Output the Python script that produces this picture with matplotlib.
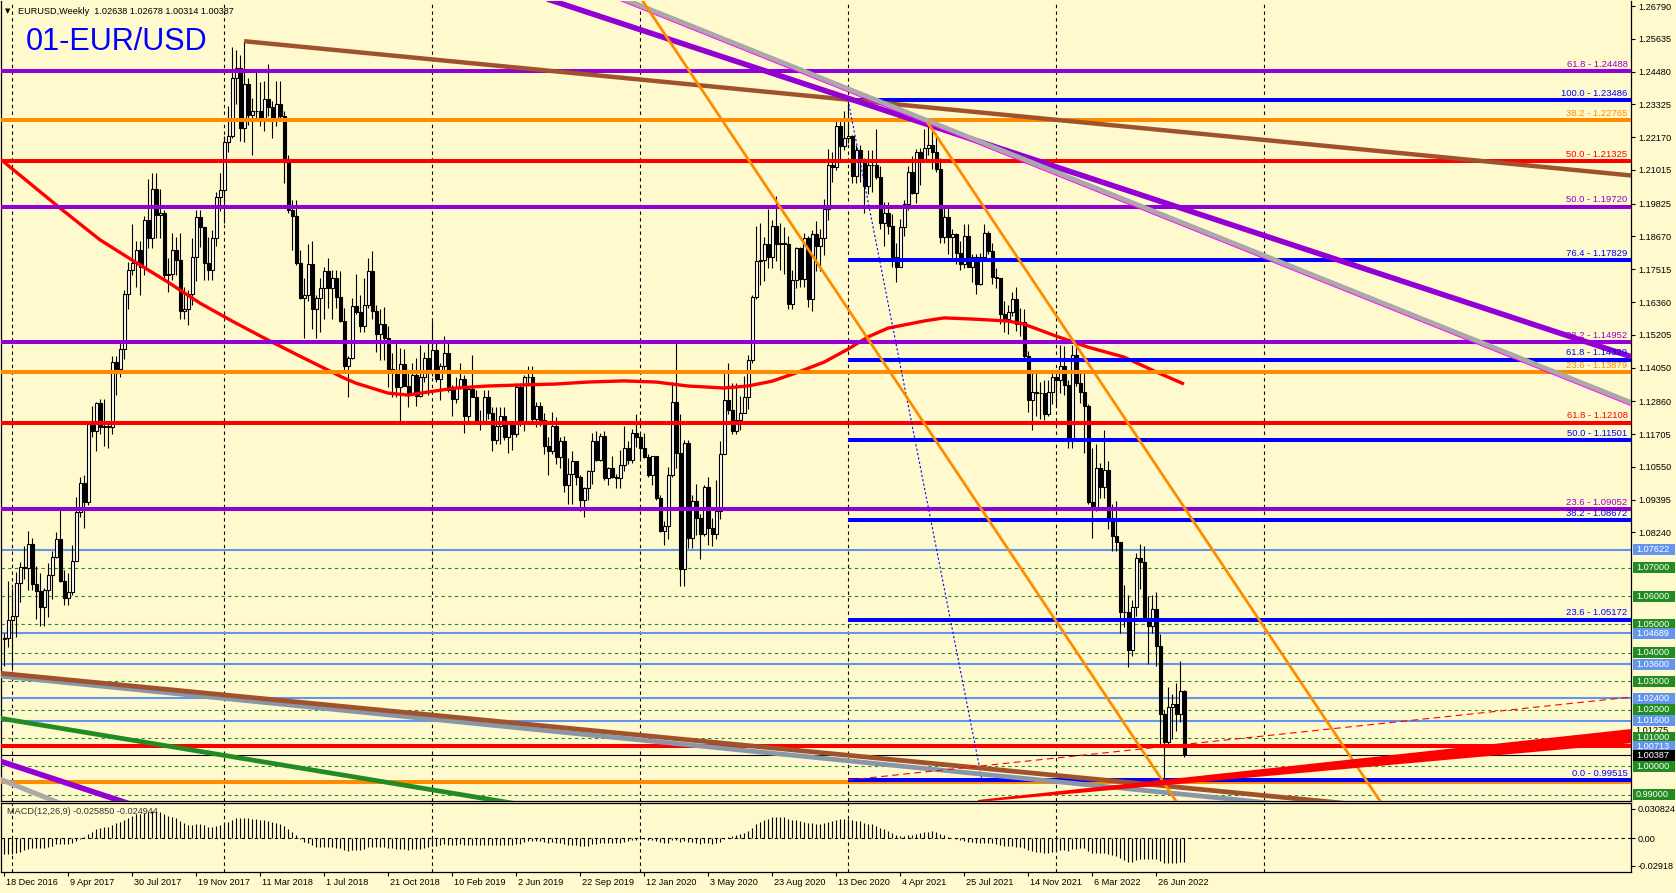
import numpy as np
import pandas as pd
import matplotlib
matplotlib.use("Agg")
import matplotlib.pyplot as plt
from matplotlib.patches import Rectangle
from matplotlib.transforms import blended_transform_factory as blend

plt.rcParams['font.family'] = ['Liberation Sans', 'DejaVu Sans']

# ---------------- weekly candles (weeks starting Sunday) ----------------
first_week = "2016-12-18"
first_open = 1.0450

high_2016 = [1.0470, 1.0653]
low_2016 = [1.0352, 1.0420]
close_2016 = [1.0453, 1.0517]

high_2017 = [1.0630, 1.0685, 1.0720, 1.0775, 1.0830, 1.0805, 1.0705, 1.0680, 1.0630,
             1.0715, 1.0760, 1.0825, 1.0905, 1.0690, 1.0680, 1.0780, 1.0950, 1.1020,
             1.1025, 1.1210, 1.1268, 1.1285, 1.1295, 1.1295, 1.1215, 1.1445,
             1.1445, 1.1490, 1.1680, 1.1777, 1.1910, 1.1850, 1.1850, 1.1940, 1.2070,
             1.2090, 1.2090, 1.2035, 1.1960, 1.1790, 1.1880, 1.1865, 1.1880, 1.1690,
             1.1680, 1.1860, 1.1960, 1.1960, 1.1890, 1.1865, 1.1890, 1.2025, 1.2090]
low_2017 = [1.0340, 1.0455, 1.0580, 1.0660, 1.0620, 1.0620, 1.0520, 1.0495, 1.0495,
            1.0525, 1.0590, 1.0735, 1.0650, 1.0570, 1.0570, 1.0605, 1.0820, 1.0880,
            1.0840, 1.0920, 1.1160, 1.1110, 1.1170, 1.1130, 1.1120, 1.1170,
            1.1310, 1.1370, 1.1435, 1.1610, 1.1730, 1.1690, 1.1660, 1.1730, 1.1825,
            1.1825, 1.1860, 1.1860, 1.1717, 1.1670, 1.1715, 1.1730, 1.1575, 1.1575,
            1.1555, 1.1625, 1.1710, 1.1830, 1.1715, 1.1715, 1.1715, 1.1835, 1.1955]
close_2017 = [1.0530, 1.0645, 1.0703, 1.0698, 1.0784, 1.0643, 1.0616, 1.0561, 1.0620,
              1.0673, 1.0736, 1.0800, 1.0652, 1.0594, 1.0614, 1.0725, 1.0895, 1.0998,
              1.0933, 1.1206, 1.1183, 1.1280, 1.1196, 1.1198, 1.1196, 1.1426,
              1.1400, 1.1470, 1.1665, 1.1750, 1.1773, 1.1818, 1.1760, 1.1925, 1.1860,
              1.2035, 1.1942, 1.1950, 1.1732, 1.1735, 1.1821, 1.1785, 1.1605, 1.1610,
              1.1665, 1.1794, 1.1935, 1.1900, 1.1775, 1.1750, 1.1860, 1.2005, 1.2030]

high_2018 = [1.2220, 1.2325, 1.2535, 1.2525, 1.2505, 1.2555, 1.2425, 1.2355,
             1.2445, 1.2410, 1.2415, 1.2475, 1.2345, 1.2415, 1.2415, 1.2310, 1.2155,
             1.1995, 1.1995, 1.1820, 1.1720, 1.1840, 1.1850, 1.1660, 1.1720,
             1.1760, 1.1790, 1.1750, 1.1750, 1.1745, 1.1615, 1.1445, 1.1650, 1.1735,
             1.1660, 1.1720, 1.1790, 1.1815, 1.1625, 1.1610, 1.1620, 1.1550, 1.1455,
             1.1500, 1.1475, 1.1470, 1.1385, 1.1420, 1.1440, 1.1485, 1.1460, 1.1500]
low_2018 = [1.1915, 1.2165, 1.2215, 1.2335, 1.2205, 1.2200, 1.2260, 1.2155,
            1.2275, 1.2255, 1.2240, 1.2290, 1.2215, 1.2255, 1.2280, 1.2055, 1.1950,
            1.1820, 1.1765, 1.1645, 1.1510, 1.1640, 1.1540, 1.1510, 1.1530,
            1.1575, 1.1615, 1.1575, 1.1615, 1.1565, 1.1390, 1.1300, 1.1435, 1.1595,
            1.1530, 1.1530, 1.1615, 1.1575, 1.1460, 1.1430, 1.1430, 1.1335, 1.1300,
            1.1300, 1.1215, 1.1345, 1.1265, 1.1310, 1.1270, 1.1300, 1.1355, 1.1310]
close_2018 = [1.2200, 1.2220, 1.2427, 1.2460, 1.2250, 1.2405, 1.2295, 1.2310,
              1.2310, 1.2285, 1.2350, 1.2323, 1.2280, 1.2332, 1.2290, 1.2130, 1.1960,
              1.1940, 1.1775, 1.1650, 1.1660, 1.1770, 1.1610, 1.1650, 1.1684,
              1.1745, 1.1685, 1.1720, 1.1655, 1.1568, 1.1410, 1.1440, 1.1622, 1.1600,
              1.1550, 1.1625, 1.1747, 1.1605, 1.1525, 1.1560, 1.1510, 1.1400, 1.1385,
              1.1335, 1.1418, 1.1340, 1.1315, 1.1380, 1.1305, 1.1370, 1.1440, 1.1395]

high_2019 = [1.1570, 1.1500, 1.1420, 1.1515, 1.1490, 1.1345, 1.1370, 1.1420,
             1.1380, 1.1340, 1.1450, 1.1325, 1.1255, 1.1325, 1.1325, 1.1265, 1.1265,
             1.1265, 1.1265, 1.1215, 1.1215, 1.1350, 1.1350, 1.1380, 1.1410, 1.1410,
             1.1285, 1.1285, 1.1245, 1.1160, 1.1250, 1.1230, 1.1160, 1.1165,
             1.1085, 1.1110, 1.1075, 1.1025, 1.0985, 1.1045, 1.1175, 1.1180, 1.1175,
             1.1180, 1.1055, 1.1095, 1.1030, 1.1115, 1.1200, 1.1145, 1.1190, 1.1240]
low_2019 = [1.1375, 1.1355, 1.1290, 1.1390, 1.1320, 1.1235, 1.1280, 1.1330,
            1.1175, 1.1210, 1.1300, 1.1215, 1.1185, 1.1205, 1.1225, 1.1110, 1.1135,
            1.1135, 1.1150, 1.1105, 1.1115, 1.1160, 1.1200, 1.1180, 1.1350, 1.1210,
            1.1195, 1.1200, 1.1100, 1.1025, 1.1100, 1.1065, 1.1050, 1.0965,
            1.0925, 1.0925, 1.0990, 1.0900, 1.0880, 1.0940, 1.0995, 1.1075, 1.1075,
            1.1010, 1.0990, 1.1015, 1.0980, 1.0980, 1.1040, 1.1065, 1.1070, 1.1125]
close_2019 = [1.1468, 1.1365, 1.1410, 1.1455, 1.1325, 1.1295, 1.1335, 1.1365,
              1.1235, 1.1330, 1.1300, 1.1218, 1.1218, 1.1300, 1.1245, 1.1150, 1.1200,
              1.1235, 1.1160, 1.1205, 1.1170, 1.1335, 1.1210, 1.1370, 1.1370, 1.1225,
              1.1270, 1.1220, 1.1127, 1.1110, 1.1200, 1.1090, 1.1145, 1.0990,
              1.1030, 1.1075, 1.1020, 1.0940, 1.0980, 1.1040, 1.1145, 1.1080, 1.1165,
              1.1015, 1.1050, 1.1020, 1.1015, 1.1060, 1.1120, 1.1080, 1.1175, 1.1160]

high_2020 = [1.1170, 1.1175, 1.1100, 1.1095, 1.1095, 1.0955, 1.0865, 1.1055,
             1.1355, 1.1495, 1.1240, 1.1150, 1.1150, 1.0955, 1.0995, 1.0890, 1.0990,
             1.1020, 1.0875, 1.1010, 1.1145, 1.1385, 1.1420, 1.1350, 1.1350, 1.1305,
             1.1375, 1.1450, 1.1660, 1.1905, 1.1915, 1.1865, 1.1965, 1.1925, 1.2010,
             1.1915, 1.1900, 1.1870, 1.1750, 1.1830, 1.1830, 1.1880, 1.1870,
             1.1890, 1.1920, 1.1895, 1.2000, 1.2175, 1.2165, 1.2275, 1.2275, 1.2310]
low_2020 = [1.1085, 1.1085, 1.1020, 1.0990, 1.0940, 1.0825, 1.0780, 1.0800,
            1.1020, 1.1050, 1.0636, 1.0635, 1.0770, 1.0770, 1.0815, 1.0730, 1.0810,
            1.0780, 1.0775, 1.0800, 1.0870, 1.1100, 1.1240, 1.1170, 1.1170, 1.1185,
            1.1250, 1.1260, 1.1420, 1.1645, 1.1695, 1.1710, 1.1755, 1.1755, 1.1780,
            1.1750, 1.1735, 1.1610, 1.1610, 1.1685, 1.1690, 1.1690, 1.1620,
            1.1605, 1.1745, 1.1745, 1.1800, 1.1925, 1.2060, 1.2100, 1.2130, 1.2170]
close_2020 = [1.1120, 1.1090, 1.1025, 1.1093, 1.0945, 1.0830, 1.0845, 1.1025,
              1.1285, 1.1105, 1.0695, 1.1140, 1.0805, 1.0935, 1.0875, 1.0820, 1.0985,
              1.0840, 1.0820, 1.0900, 1.1100, 1.1290, 1.1255, 1.1180, 1.1220, 1.1245,
              1.1300, 1.1430, 1.1655, 1.1780, 1.1785, 1.1842, 1.1795, 1.1905, 1.1840,
              1.1845, 1.1840, 1.1630, 1.1715, 1.1825, 1.1718, 1.1860, 1.1645,
              1.1875, 1.1835, 1.1860, 1.1965, 1.2120, 1.2110, 1.2255, 1.2185, 1.2215]

high_2021 = [1.23486, 1.2225, 1.2190, 1.2190, 1.2145, 1.2170, 1.2170, 1.2245, 1.2115,
             1.1990, 1.1990, 1.1945, 1.1845, 1.1930, 1.1995, 1.2115, 1.2150,
             1.2175, 1.2180, 1.2245, 1.2266, 1.2255, 1.2220, 1.2145, 1.1975, 1.1975,
             1.1895, 1.1880, 1.1850, 1.1910, 1.1910, 1.1805, 1.1805, 1.1810, 1.1910,
             1.1885, 1.1845, 1.1755, 1.1715, 1.1640, 1.1625, 1.1670, 1.1690, 1.1615,
             1.1610, 1.1465, 1.1385, 1.1385, 1.1355, 1.1360, 1.1360, 1.1385]
low_2021 = [1.2195, 1.2055, 1.2055, 1.2060, 1.1950, 1.2015, 1.2025, 1.2070, 1.1895,
            1.1835, 1.1875, 1.1760, 1.1705, 1.1760, 1.1870, 1.1960, 1.2015,
            1.1985, 1.2050, 1.2135, 1.2155, 1.2105, 1.2095, 1.1845, 1.1845, 1.1805,
            1.1780, 1.1770, 1.1750, 1.1755, 1.1760, 1.1705, 1.1665, 1.1695, 1.1790,
            1.1805, 1.1700, 1.1685, 1.1560, 1.1530, 1.1525, 1.1585, 1.1535, 1.1515,
            1.1430, 1.1250, 1.1185, 1.1235, 1.1225, 1.1220, 1.1235, 1.1275]
close_2021 = [1.2220, 1.2080, 1.2170, 1.2135, 1.2045, 1.2120, 1.2120, 1.2075, 1.1915,
              1.1950, 1.1905, 1.1795, 1.1760, 1.1900, 1.1980, 1.2095, 1.2020,
              1.2165, 1.2140, 1.2180, 1.2190, 1.2165, 1.2105, 1.1865, 1.1935, 1.1865,
              1.1875, 1.1810, 1.1770, 1.1870, 1.1760, 1.1795, 1.1700, 1.1795, 1.1880,
              1.1815, 1.1725, 1.1720, 1.1595, 1.1575, 1.1600, 1.1645, 1.1560, 1.1565,
              1.1445, 1.1290, 1.1320, 1.1315, 1.1315, 1.1240, 1.1320, 1.1370]

high_2022 = [1.1385, 1.1485, 1.1480, 1.1360, 1.1485, 1.1495, 1.1390, 1.1395, 1.1275,
             1.1120, 1.1135, 1.1070, 1.1185, 1.1075, 1.0925, 1.0935, 1.0790,
             1.0640, 1.0605, 1.0585, 1.0750, 1.0785, 1.0775, 1.0600, 1.0605, 1.0615,
             1.0465, 1.0200, 1.0280, 1.0255, 1.0295, 1.0370, 1.02678]
low_2022 = [1.1270, 1.1315, 1.1310, 1.1120, 1.1120, 1.1340, 1.1280, 1.1105, 1.0925,
            1.0805, 1.0900, 1.0945, 1.0945, 1.0835, 1.0760, 1.0760, 1.0470,
            1.0490, 1.0350, 1.0390, 1.0530, 1.0625, 1.0515, 1.0360, 1.0470, 1.0355,
            1.0070, 0.9952, 1.0080, 1.0095, 1.0125, 1.0155, 1.00314]
close_2022 = [1.1360, 1.1410, 1.1345, 1.1145, 1.1450, 1.1350, 1.1320, 1.1270, 1.0930,
              1.0910, 1.1050, 1.0985, 1.1045, 1.0875, 1.0810, 1.0790, 1.0545,
              1.0545, 1.0410, 1.0560, 1.0735, 1.0720, 1.0520, 1.0495, 1.0555, 1.0425,
              1.0185, 1.0085, 1.0210, 1.0220, 1.0185, 1.02638, 1.00387]

# closes of the 26 weeks before the first visible bar (MACD warm-up)
prior_closes = [1.1115, 1.1135, 1.1050, 1.1040, 1.0975, 1.1175, 1.1085, 1.1160, 1.1325,
                1.1200, 1.1155, 1.1235, 1.1155, 1.1225, 1.1240, 1.1200, 1.0970, 1.0885,
                1.0985, 1.1140, 1.0850, 1.0590, 1.0590, 1.0665, 1.0560, 1.0450]

# red moving average (bar index, price)
ma_bar = [0, 14, 24, 32, 41, 49, 57, 66, 74, 80, 85, 88, 96, 101, 106, 113, 121, 130,
          138, 146, 155, 163, 171, 180, 186, 192, 198, 205, 211, 216, 221, 230, 235,
          242, 251, 255, 263, 271, 280, 288, 295]
ma_value = [1.2129, 1.1967, 1.1855, 1.1784, 1.1706, 1.1632, 1.1569, 1.1502, 1.1445,
            1.1403, 1.1368, 1.1350, 1.1315, 1.1308, 1.1319, 1.1333, 1.1340, 1.1344,
            1.1347, 1.1354, 1.1358, 1.1354, 1.1340, 1.1333, 1.1340, 1.1357, 1.1386,
            1.1424, 1.1470, 1.1513, 1.1544, 1.1569, 1.1580, 1.1576, 1.1569, 1.1558,
            1.1516, 1.1477, 1.1442, 1.1390, 1.1347]

# price scale labels
axis_prices = [1.26790, 1.25635, 1.24480, 1.23325, 1.22170, 1.21015, 1.19825, 1.18670,
               1.17515, 1.16360, 1.15205, 1.14050, 1.12860, 1.11705, 1.10550, 1.09395,
               1.08240]

# full-width horizontal level lines
level_prices = [1.24488, 1.22765, 1.21325, 1.19720, 1.14952, 1.13879, 1.12108, 1.09052,
                1.00704, 0.99450]
level_colors = ['#9400D3', '#FF8C00', '#FF0000', '#9400D3', '#9400D3', '#FF8C00',
                '#FF0000', '#9400D3', '#FF0000', '#FF8C00']

# blue Fibonacci retracement (from the Jan-2021 high)
fibo_start_bar = 211
fibo_end_bar = 244.5
fibo_levels = [100.0, 76.4, 61.8, 50.0, 38.2, 23.6, 0.0]
fibo_prices = [1.23486, 1.17829, 1.14329, 1.11501, 1.08672, 1.05172, 0.99515]

# texts written above the level lines at the right
level_texts = ['61.8 - 1.24488', '100.0 - 1.23486', '38.2 - 1.22765', '50.0 - 1.21325',
               '50.0 - 1.19720', '76.4 - 1.17829', '38.2 - 1.14952', '61.8 - 1.14329',
               '23.6 - 1.13879', '61.8 - 1.12108', '50.0 - 1.11501', '23.6 - 1.09052',
               '38.2 - 1.08672', '23.6 - 1.05172', '76.4 - 1.00704', '0.0 - 0.99515']
level_text_prices = [1.24488, 1.23486, 1.22765, 1.21325, 1.19720, 1.17829, 1.14952,
                     1.14329, 1.13879, 1.12108, 1.11501, 1.09052, 1.08672, 1.05172,
                     1.00704, 0.99515]
level_text_colors = ['#9400D3', '#0000FF', '#FF8C00', '#FF0000', '#9400D3', '#0000FF',
                     '#9400D3', '#0000FF', '#FF8C00', '#FF0000', '#0000FF', '#9400D3',
                     '#0000FF', '#0000FF', '#FF0000', '#0000FF']

# light-blue support lines and green round-number lines
support_prices = [1.07622, 1.04689, 1.03600, 1.02400, 1.01600, 1.00713]
round_prices = [1.07, 1.06, 1.05, 1.04, 1.03, 1.02, 1.01, 1.00, 0.99]
bid_price = 1.00387
wedge_label_price = 1.01275

# trend lines: (bar, price) anchors
brown_top = [(60, 1.2555), (211, 1.2349)]
purple_top = [(211, 1.2354), (361.5, 1.1654)]
grey_top = [(211, 1.2387), (361.5, 1.1537)]
purple_low = [(5.75, 0.99870), (156.25, 0.92870)]
grey_low = [(-0.5, 0.99517), (150.0, 0.91030)]
green_low = [(77.1, 0.99870), (119.5, 0.98880)]
brown_low = [(-1.0, 1.0328), (246.5, 0.99905)]
slate_low = [(-1.0, 1.0318), (246.5, 0.99694)]
orange_a = [(251.5, 1.0755), (290.0, 0.9941)]
orange_b = [(231.0, 1.2266), (290.0, 1.1019)]
red_dash = [(211.0, 0.99515), (406.75, 1.0244)]
red_wedge = [(243.5, 0.98777), (406.75, 1.01275), (406.75, 1.00850)]

# last year with a vertical (yearly) grid line
grid_last_year = 2023

macd_value_text = "MACD(12,26,9) -0.025850 -0.024944"
header_text = "EURUSD,Weekly  1.02638 1.02678 1.00314 1.00387"
title_text = "01-EUR/USD"

# ---------------- assemble ----------------
highs = np.array(high_2016 + high_2017 + high_2018 + high_2019 + high_2020 + high_2021 + high_2022)
lows = np.array(low_2016 + low_2017 + low_2018 + low_2019 + low_2020 + low_2021 + low_2022)
closes = np.array(close_2016 + close_2017 + close_2018 + close_2019 + close_2020 + close_2021 + close_2022)
n = len(closes)
opens = np.concatenate([[first_open], closes[:-1]])
highs = np.maximum(highs, np.maximum(opens, closes))
lows = np.minimum(lows, np.minimum(opens, closes))
idx = np.arange(n)
dates = pd.date_range(first_week, periods=n, freq='7D')

allc = pd.Series(prior_closes + list(closes))
macd = (allc.ewm(span=12, adjust=False).mean() - allc.ewm(span=26, adjust=False).mean()).values[len(prior_closes):]

# ---------------- figure ----------------
W, H = 1676, 893
BG = '#FFFACD'
fig = plt.figure(figsize=(W / 100, H / 100), dpi=100, facecolor=BG)
ax = fig.add_axes([1 / W, 1 - 801 / H, 1630 / W, 800 / H], facecolor=BG)
mx = fig.add_axes([1 / W, 1 - 872 / H, 1630 / W, 69 / H], facecolor=BG)

XL = (-0.75, 406.75)
ax.set_xlim(XL)
ax.set_ylim(0.987774, 1.269662)
mx.set_xlim(XL)
mx.set_ylim(-0.035789, 0.036842)

# vertical grid at first bar of each year
all_dates = pd.date_range(first_week, periods=420, freq='7D')
years = all_dates.year
grid_bars = [i for i in range(1, len(all_dates))
             if years[i] != years[i - 1] and years[i] <= grid_last_year]
for a in (ax, mx):
    for g in grid_bars:
        a.axvline(g, color='black', lw=0.8, ls=(0, (3, 3)), zorder=0.5)

# candles
up = closes >= opens
ax.vlines(idx, lows, highs, color='black', lw=0.8, zorder=2)
ax.bar(idx[up], (closes - opens)[up], bottom=opens[up], width=0.75, color='white',
       edgecolor='black', linewidth=0.8, zorder=2.2)
ax.bar(idx[~up], (opens - closes)[~up], bottom=closes[~up], width=0.75, color='black',
       edgecolor='black', linewidth=0.8, zorder=2.2)

# moving average
ax.plot(ma_bar, ma_value, color='#FF0000', lw=2.4, zorder=3, solid_capstyle='butt')

# green dashed round numbers, light blue supports
for p in round_prices:
    ax.axhline(p, color='#228B22', lw=0.8, ls=(0, (3, 3)), zorder=1.5)
for p in support_prices:
    ax.axhline(p, color='#6495ED', lw=1.5, zorder=1.6)

# full width levels
for p, c in zip(level_prices, level_colors):
    ax.axhline(p, color=c, lw=2.9, zorder=3.1)

# blue fibo
for p in fibo_prices:
    ax.plot([fibo_start_bar, XL[1]], [p, p], color='#0000FF', lw=2.9, zorder=3.2,
            solid_capstyle='butt')
ax.plot([fibo_start_bar, fibo_end_bar], [fibo_prices[0], fibo_prices[-1]], color='#0000FF',
        lw=0.8, ls=(0, (2, 2)), zorder=3.2)

# bid line
ax.axhline(bid_price, color='black', lw=0.8, zorder=3.3)


def extend(pts, x_from, x_to):
    (x0, y0), (x1, y1) = pts
    s = (y1 - y0) / (x1 - x0)
    return [x_from, x_to], [y0 + s * (x_from - x0), y0 + s * (x_to - x0)]


# trend lines
xs, ys = extend(brown_top, brown_top[0][0], XL[1])
ax.plot(xs, ys, color='#A0522D', lw=3.2, zorder=3.5, solid_capstyle='butt')
xs, ys = extend(purple_top, XL[0], XL[1])
ax.plot(xs, ys, color='#9400D3', lw=4.0, zorder=3.6, solid_capstyle='butt')
xs, ys = extend(grey_top, XL[0], XL[1])
ax.plot(xs, ys, color='#A9A9A9', lw=3.6, zorder=3.7, solid_capstyle='butt')
ax.plot(xs, [y - 0.00105 for y in ys], color='#FF00FF', lw=0.7, zorder=3.7)
xs, ys = extend(purple_low, XL[0], XL[1])
ax.plot(xs, ys, color='#9400D3', lw=4.0, zorder=3.6)
xs, ys = extend(grey_low, XL[0], XL[1])
ax.plot(xs, ys, color='#A9A9A9', lw=3.6, zorder=3.7)
xs, ys = extend(green_low, XL[0], XL[1])
ax.plot(xs, ys, color='#228B22', lw=3.4, zorder=3.5)
xs, ys = extend(slate_low, XL[0], XL[1])
ax.plot(xs, ys, color='#8896A8', lw=3.4, zorder=3.5)
xs, ys = extend(brown_low, XL[0], XL[1])
ax.plot(xs, ys, color='#A0522D', lw=3.4, zorder=3.55)
xs, ys = extend(orange_a, XL[0], XL[1])
ax.plot(xs, ys, color='#FF8C00', lw=2.0, zorder=3.8)
xs, ys = extend(orange_b, orange_b[0][0], XL[1])
ax.plot(xs, ys, color='#FF8C00', lw=2.0, zorder=3.8)
ax.plot([red_dash[0][0], red_dash[1][0]], [red_dash[0][1], red_dash[1][1]],
        color='#FF0000', lw=0.8, ls=(0, (6, 4)), zorder=3.8)
ax.fill([p[0] for p in red_wedge], [p[1] for p in red_wedge], color='#FF0000', lw=1.5,
        zorder=3.9)

# level texts at right
for t, p, c in zip(level_texts, level_text_prices, level_text_colors):
    ax.annotate(t, xy=(405.9, p), xytext=(0, 1.6), textcoords='offset points',
                ha='right', va='bottom', fontsize=6.8, color=c, zorder=5)

# price axis
ax.spines['top'].set_visible(False)
for s in ('left', 'right', 'bottom'):
    ax.spines[s].set_linewidth(0.9)
ax.set_xticks([])
ax.yaxis.tick_right()
ax.set_yticks(axis_prices)
ax.set_yticklabels(['%.5f' % p for p in axis_prices])
ax.tick_params(axis='y', length=3, width=0.8, pad=2, labelsize=6.6, colors='black')

# boxed axis labels
tr = blend(ax.transAxes, ax.transData)
box_h = 11 / 2838
box_items = ([(p, '#228B22', 'white', '%.5f' % p) for p in round_prices] +
             [(p, '#6495ED', 'white', '%.5f' % p) for p in support_prices])
box_items.sort(key=lambda b: -b[0])
ax.text(1 + 4 / 1630, wedge_label_price, '%.5f' % wedge_label_price, transform=tr,
        ha='left', va='center', fontsize=6.6, color='black', clip_on=False, zorder=6)
for p, fc, tc, t in box_items + [(bid_price, 'black', 'white', '%.5f' % bid_price)]:
    ax.add_patch(Rectangle((1 + 1.5 / 1630, p - box_h / 2), 42 / 1630, box_h, transform=tr,
                           facecolor=fc, edgecolor='none', clip_on=False, zorder=6))
    ax.text(1 + 5 / 1630, p, t, transform=tr, ha='left', va='center', fontsize=6.6,
            color=tc, clip_on=False, zorder=7)

# MACD
mx.vlines(idx, 0, macd, color='black', lw=0.8, zorder=2)
mx.axhline(0, color='black', lw=0.8, ls=(0, (3, 3)), zorder=1)
for s in mx.spines.values():
    s.set_linewidth(0.9)
mx.yaxis.tick_right()
mx.set_yticks([0.030824, 0.0, -0.02918])
mx.set_yticklabels(['0.030824', '0.00', '-0.02918'])
mx.tick_params(axis='y', length=3, width=0.8, pad=2, labelsize=6.6)
lab_bars = idx[::16]
mx.set_xticks(lab_bars)
mx.set_xticklabels([])
mx.tick_params(axis='x', length=3, width=0.8, direction='out')
trx = blend(mx.transData, mx.transAxes)
for b in lab_bars:
    d = dates[b]
    mx.text(b + 0.4, -6 / 69, f"{d.day} {d.strftime('%b %Y')}", transform=trx,
            ha='left', va='top', fontsize=6.6, clip_on=False)
mx.text(6 / 1630, 1 - 9 / 69, macd_value_text, transform=mx.transAxes, ha='left',
        va='center', fontsize=6.6, color='#333333')

# header and title
fig.text(5 / W, 1 - 11 / H, '\u25BC', fontsize=5, va='center', ha='left', color='black',
         family=['DejaVu Sans'])
fig.text(18 / W, 1 - 11 / H, header_text, fontsize=6.6, va='center', ha='left', color='black')
fig.text(26 / W, 1 - 50 / H, title_text, fontsize=22, va='baseline', ha='left', color='#0000FF')

fig.savefig('out.png', dpi=100, facecolor=BG)
